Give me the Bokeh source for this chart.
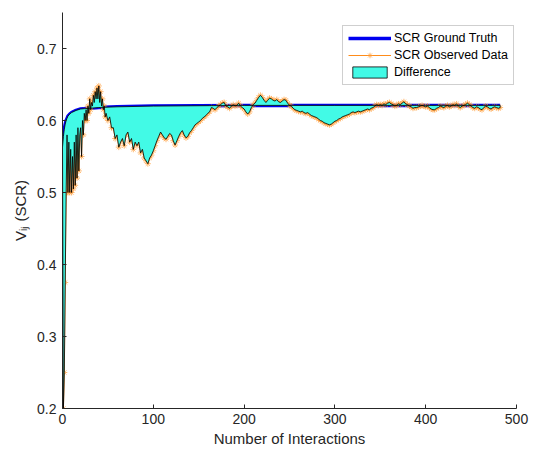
from bokeh.plotting import figure
from bokeh.models import Range1d, FixedTicker, Legend, LegendItem
from bokeh.embed import file_html
from bokeh.resources import INLINE

# Ground truth (SCR)
gt_x = [0, 1, 2, 3, 4, 5, 6, 8, 10, 15, 20, 30, 40, 60, 100, 200, 300, 400, 482]
gt_y = [0.563, 0.578, 0.588, 0.595, 0.600, 0.603, 0.606, 0.609, 0.611, 0.614,
        0.616, 0.617, 0.618, 0.619, 0.620, 0.621, 0.621, 0.621, 0.621]

# Observed data (SCR)
obs_x = [1, 2, 3, 4, 5, 6, 7, 8, 9, 10, 11, 12, 13, 14, 15, 16, 17, 18, 19, 20,
         21, 22, 23, 24, 25, 26, 27, 28, 29, 30, 31, 32, 33, 34, 35, 36, 37, 38, 39, 40,
         41, 42, 43, 44, 45, 46, 47, 48, 50, 52, 54, 56, 58, 60, 62, 64, 66, 68, 70, 72,
         74, 76, 78, 80, 82, 84, 86, 88, 90, 92, 94, 96, 98, 100, 102, 104, 106, 108, 110, 112,
         114, 116, 118, 120, 122, 124, 126, 128, 130, 132, 134, 136, 138, 140, 142, 144, 146, 148, 150, 152,
         154, 156, 158, 160, 162, 164, 166, 168, 170, 172, 174, 176, 178, 180, 182, 184, 186, 188, 190, 192,
         194, 196, 198, 200, 202, 204, 206, 208, 210, 212, 214, 216, 218, 220, 222, 224, 226, 228, 230, 232,
         234, 236, 238, 240, 242, 244, 246, 248, 250, 252, 254, 256, 258, 260, 262, 264, 266, 268, 270, 272,
         274, 276, 278, 280, 282, 284, 286, 288, 290, 292, 294, 296, 298, 300, 302, 304, 306, 308, 310, 312,
         314, 316, 318, 320, 322, 324, 326, 328, 330, 332, 334, 336, 338, 340, 342, 344, 346, 348, 350, 352,
         354, 356, 358, 360, 362, 364, 366, 368, 370, 372, 374, 376, 378, 380, 382, 384, 386, 388, 390, 392,
         394, 396, 398, 400, 402, 404, 406, 408, 410, 412, 414, 416, 418, 420, 422, 424, 426, 428, 430, 432,
         434, 436, 438, 440, 442, 444, 446, 448, 450, 452, 454, 456, 458, 460, 462, 464, 466, 468, 470, 472,
         474, 476, 478, 480, 482]
obs_y = [0.200, 0.250, 0.375, 0.500, 0.580, 0.500, 0.570, 0.500, 0.560, 0.500,
         0.550, 0.505, 0.570, 0.510, 0.580, 0.520, 0.590, 0.530, 0.580, 0.590,
         0.550, 0.600, 0.580, 0.610, 0.600, 0.615, 0.600, 0.620, 0.610, 0.630,
         0.615, 0.625, 0.620, 0.635, 0.625, 0.640, 0.630, 0.645, 0.630, 0.648,
         0.625, 0.640, 0.620, 0.630, 0.615, 0.620, 0.605, 0.610, 0.600, 0.605,
         0.590, 0.590, 0.575, 0.580, 0.563, 0.570, 0.575, 0.565, 0.580, 0.584,
         0.570, 0.575, 0.560, 0.570, 0.565, 0.570, 0.555, 0.560, 0.548, 0.544,
         0.540, 0.548, 0.552, 0.558, 0.565, 0.572, 0.578, 0.584, 0.580, 0.576,
         0.574, 0.578, 0.582, 0.580, 0.572, 0.566, 0.572, 0.578, 0.583, 0.586,
         0.580, 0.576, 0.578, 0.583, 0.586, 0.590, 0.594, 0.596, 0.598, 0.600,
         0.603, 0.605, 0.607, 0.610, 0.612, 0.618, 0.617, 0.615, 0.618, 0.620,
         0.622, 0.624, 0.625, 0.620, 0.619, 0.617, 0.620, 0.622, 0.620, 0.621,
         0.624, 0.620, 0.618, 0.616, 0.612, 0.609, 0.612, 0.618, 0.622, 0.624,
         0.628, 0.632, 0.635, 0.632, 0.628, 0.625, 0.628, 0.631, 0.630, 0.628,
         0.627, 0.629, 0.626, 0.625, 0.627, 0.629, 0.628, 0.624, 0.621, 0.620,
         0.617, 0.615, 0.614, 0.613, 0.612, 0.613, 0.611, 0.610, 0.611, 0.609,
         0.607, 0.606, 0.605, 0.604, 0.602, 0.600, 0.599, 0.597, 0.596, 0.595,
         0.594, 0.595, 0.597, 0.599, 0.600, 0.602, 0.603, 0.605, 0.606, 0.607,
         0.608, 0.609, 0.611, 0.612, 0.611, 0.612, 0.613, 0.612, 0.613, 0.614,
         0.615, 0.616, 0.615, 0.617, 0.618, 0.620, 0.622, 0.621, 0.622, 0.621,
         0.623, 0.622, 0.624, 0.625, 0.623, 0.622, 0.620, 0.621, 0.623, 0.622,
         0.624, 0.626, 0.623, 0.622, 0.620, 0.619, 0.617, 0.618, 0.618, 0.619,
         0.620, 0.621, 0.620, 0.619, 0.620, 0.618, 0.616, 0.615, 0.615, 0.617,
         0.618, 0.620, 0.619, 0.618, 0.620, 0.621, 0.619, 0.620, 0.622, 0.621,
         0.623, 0.620, 0.618, 0.620, 0.621, 0.622, 0.624, 0.622, 0.620, 0.618,
         0.617, 0.619, 0.618, 0.616, 0.615, 0.618, 0.620, 0.619, 0.617, 0.616,
         0.618, 0.619, 0.618, 0.617, 0.618]

x_ticks = [0, 100, 200, 300, 400, 500]
y_ticks = [0.2, 0.3, 0.4, 0.5, 0.6, 0.7]

FONT = "Liberation Sans"
TXT = "#262626"

p = figure(width=530, height=447, output_backend="svg", toolbar_location=None,
           x_range=Range1d(0, 500), y_range=Range1d(0.2, 0.75),
           min_border_left=62, min_border_right=14, min_border_top=12, min_border_bottom=39)
p.frame_width = 454
p.frame_height = 396
p.outline_line_color = None
p.grid.visible = False
p.background_fill_color = "white"

gt = p.line(gt_x, gt_y, line_color="#0000F0", line_width=3.5)
obs_line = p.line(obs_x, obs_y, line_color="#FF8C1A", line_width=1.0)
obs_mk = p.scatter(obs_x, obs_y, marker="asterisk", size=6, line_color="#FF9A33",
                   line_width=0.8, line_alpha=0.85)

patch_x = obs_x + gt_x[::-1]
patch_y = obs_y + gt_y[::-1]
diff = p.patch(patch_x, patch_y, fill_color="#42FAE6", line_color="black", line_width=0.8)

for ax, ticks in ((p.xaxis, x_ticks), (p.yaxis, y_ticks)):
    ax.ticker = FixedTicker(ticks=ticks)
    ax.major_tick_in = 4
    ax.major_tick_out = 0
    ax.minor_tick_line_color = None
    ax.axis_line_color = TXT
    ax.major_tick_line_color = TXT
    ax.major_label_text_font = FONT
    ax.major_label_text_font_size = "14px"
    ax.major_label_text_color = TXT
    ax.axis_label_text_font = FONT
    ax.axis_label_text_font_size = "15px"
    ax.axis_label_text_font_style = "normal"
    ax.axis_label_text_color = TXT

p.xaxis.axis_label = "Number of Interactions"
p.yaxis.axis_label = "V\u1d62\u2c7c (SCR)"
p.xaxis.major_label_standoff = 5
p.yaxis.major_label_standoff = 6
p.xaxis.axis_label_standoff = 3
p.yaxis.axis_label_standoff = 5

legend = Legend(items=[
    LegendItem(label="SCR Ground Truth", renderers=[gt]),
    LegendItem(label="SCR Observed Data", renderers=[obs_line, obs_mk]),
    LegendItem(label="Difference", renderers=[diff]),
], location=(280, 323))
legend.label_text_font = FONT
legend.label_text_font_size = "12.5px"
legend.label_text_color = "black"
legend.glyph_width = 43
legend.glyph_height = 14
legend.label_standoff = 3
legend.spacing = 3
legend.padding = 5
legend.margin = 0
legend.label_height = 14
legend.border_line_color = "#A0A0A0"
legend.border_line_width = 1
legend.background_fill_alpha = 1.0
p.add_layout(legend, "center")

open("out.html", "w").write(file_html(p, INLINE))
